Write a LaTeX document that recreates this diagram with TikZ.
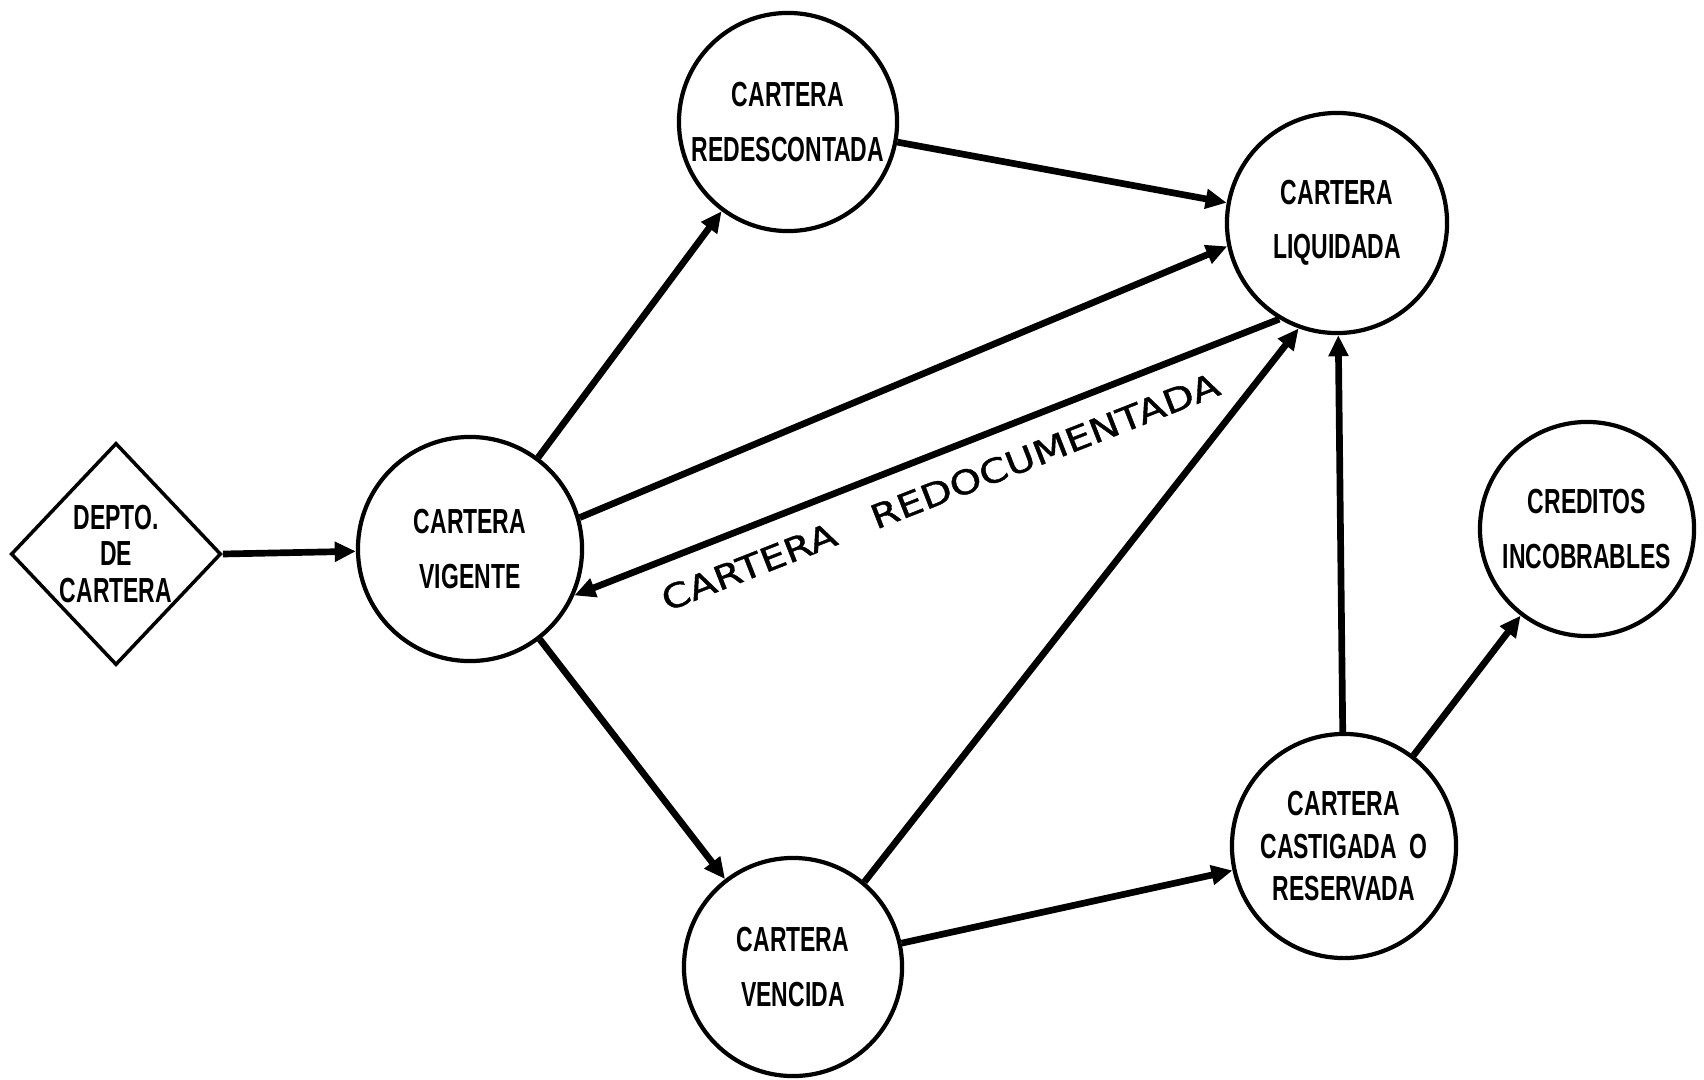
\documentclass[tikz,border=0pt]{standalone}
\usepackage{fontspec}
\usepackage{tikz}
\usetikzlibrary{arrows.meta,shapes.geometric}
\newfontfamily\boxfont[FakeStretch=0.66]{Liberation Sans Bold}
\newfontfamily\flowfont[FakeStretch=1.22,FakeBold=1.2]{DejaVu Sans}

\begin{document}
\begin{tikzpicture}[x=0.01cm,y=-0.01cm,
  state/.style={circle, draw, line width=1.2pt, inner sep=0pt,
    align=center, font=\boxfont\fontsize{9.9}{15.4}\selectfont},
  flow/.style={-{Triangle[length=6pt,width=5.4pt]}, line width=1.9pt}]
\useasboundingbox (0,0) rectangle (1704,1079);
% source
\node[diamond, draw, line width=1pt, minimum width=2.06cm, minimum height=2.22cm,
  inner sep=0pt, align=center, font=\boxfont\fontsize{9.9}{10.4}\selectfont]
  (dep) at (116,554) {DEPTO.\\DE\\CARTERA};
% states of the portfolio
\node[state, minimum size=2.24cm] (vig) at (470,549) {CARTERA\\VIGENTE};
\node[state, minimum size=2.18cm] (red) at (788,122) {CARTERA\\REDESCONTADA};
\node[state, minimum size=2.20cm] (liq) at (1337,223) {CARTERA\\LIQUIDADA};
\node[state, minimum size=2.14cm] (cre) at (1587,529) {CREDITOS\\INCOBRABLES};
\node[state, minimum size=2.24cm, font=\boxfont\fontsize{9.9}{12}\selectfont]
  (cas) at (1344,846) {CARTERA\\CASTIGADA \ O\\RESERVADA};
\node[state, minimum size=2.18cm] (ven) at (793,967) {CARTERA\\VENCIDA};
% flows
\draw[flow] (dep.east) -- (vig);
\draw[flow] (vig) -- (red);
\draw[flow] (red) -- (liq);
\draw[flow] (vig.16) -- (liq.192);
\draw[flow] (liq.239) -- node[pos=0.5, sloped, below=5pt, inner sep=1pt,
  font=\flowfont\fontsize{9.4}{11}\selectfont]
  {CARTERA\hspace{1.2em}REDOCUMENTADA} (vig.336);
\draw[flow] (vig) -- (ven);
\draw[flow] (ven.50) -- (liq.250);
\draw[flow] (ven) -- (cas);
\draw[flow] (cas) -- (liq);
\draw[flow] (cas) -- (cre);
\end{tikzpicture}
\end{document}
